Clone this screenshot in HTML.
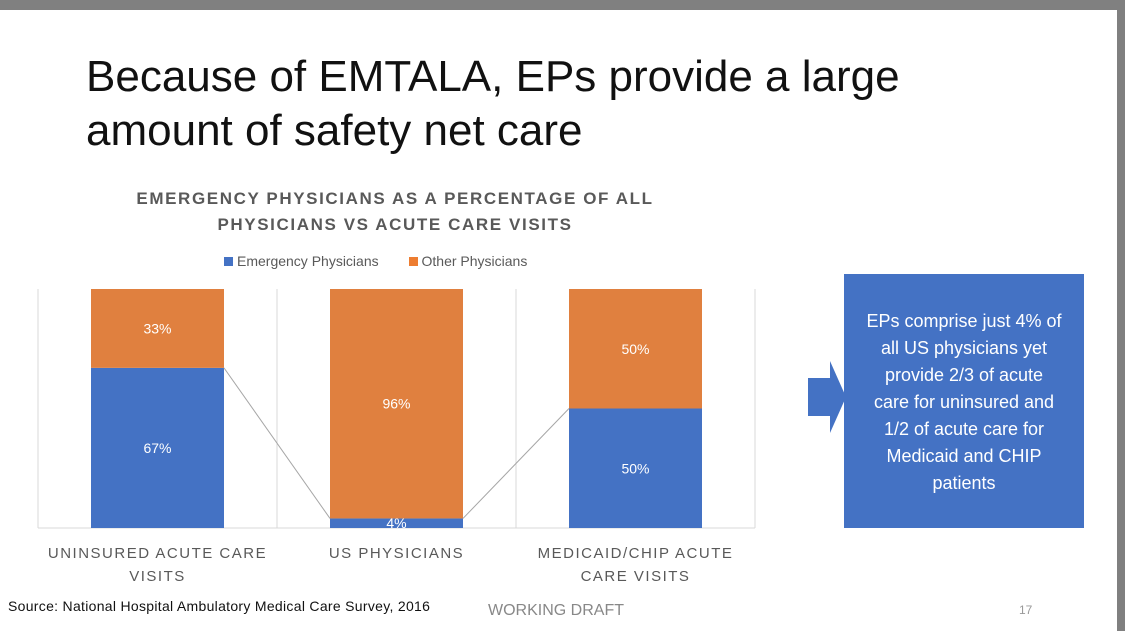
<!DOCTYPE html>
<html><head><meta charset="utf-8"><style>
body{margin:0;width:1125px;height:631px;overflow:hidden;background:#fff;font-family:"Liberation Sans",sans-serif;position:relative}
.abs{position:absolute}
</style></head><body>
<div class="abs" style="left:0;top:0;width:1125px;height:10px;background:#808080"></div>
<div class="abs" style="left:1117px;top:0;width:8px;height:631px;background:#808080"></div>
<div class="abs" style="left:86px;top:50px;font-size:44px;line-height:54px;color:#111;width:900px">Because of EMTALA, EPs provide a large amount of safety net care</div>
<div class="abs" style="left:60px;top:186px;width:670px;text-align:center;font-size:17px;font-weight:bold;letter-spacing:1.6px;color:#595959;line-height:26px">EMERGENCY PHYSICIANS AS A PERCENTAGE OF ALL<br>PHYSICIANS VS ACUTE CARE VISITS</div>
<div class="abs" style="left:224px;top:253px;font-size:14px;color:#595959">
<span><span style="display:inline-block;width:9px;height:9px;background:#4472C4;margin-right:4px"></span>Emergency Physicians</span>
<span style="margin-left:26px"><span style="display:inline-block;width:9px;height:9px;background:#ED7D31;margin-right:4px"></span>Other Physicians</span></div>
<svg class="abs" style="left:0;top:0" width="1125" height="631" id="svg"></svg>
<div class="abs" style="left:808px;top:361px"><svg width="40" height="72"><path d="M0 17H22V0L38 36L22 72V55H0Z" fill="#4472C4"/></svg></div>
<div class="abs" style="left:844px;top:274px;width:240px;height:254px;background:#4472C4;color:#fff;font-size:18px;line-height:27px;text-align:center;box-sizing:border-box;padding-top:34px;white-space:nowrap">EPs comprise just 4% of<br>all US physicians yet<br>provide 2/3 of acute<br>care for uninsured and<br>1/2 of acute care for<br>Medicaid and CHIP<br>patients</div>
<div class="abs" style="left:8px;top:598px;font-size:14px;color:#111;letter-spacing:0.3px">Source: National Hospital Ambulatory Medical Care Survey, 2016</div>
<div class="abs" style="left:488px;top:602px;font-size:16px;color:#888">WORKING DRAFT</div>
<div class="abs" style="left:1019px;top:603px;font-size:12px;color:#999">17</div>
<script>
const categories=["UNINSURED ACUTE CARE|VISITS","US PHYSICIANS","MEDICAID/CHIP ACUTE|CARE VISITS"];
const emergency=[67,4,50];
const other=[33,96,50];
const svg=document.getElementById('svg');const NS='http://www.w3.org/2000/svg';
const x0=38,cw=239,yTop=289,yBot=528,bw=133;
const y=v=>yBot-v/100*(yBot-yTop);
function el(t,a){const e=document.createElementNS(NS,t);for(const k in a)e.setAttribute(k,a[k]);svg.appendChild(e);return e;}
for(let i=0;i<=categories.length;i++){const g=el('line',{x1:x0+i*cw,x2:x0+i*cw,y1:yTop,y2:yBot,stroke:'#d9d9d9'});}
const ax=el('line',{x1:x0,x2:x0+cw*categories.length,y1:yBot,y2:yBot,stroke:'#d9d9d9'});

categories.forEach((c,i)=>{
 const bx=x0+i*cw+(cw-bw)/2;
 const b1=el('rect',{x:bx,y:y(emergency[i]),width:bw,height:yBot-y(emergency[i]),fill:'#4472C4'});
 
 const top=emergency[i]+other[i];
 const b2=el('rect',{x:bx,y:y(top),width:bw,height:y(emergency[i])-y(top),fill:'#E0803F'});
 
 const t1=el('text',{x:bx+bw/2,y:(y(emergency[i])+yBot)/2+5,'text-anchor':'middle','font-size':14,fill:'#fff','font-family':'Liberation Sans'});t1.textContent=emergency[i]+'%';
 
 const t2=el('text',{x:bx+bw/2,y:(y(top)+y(emergency[i]))/2+5,'text-anchor':'middle','font-size':14,fill:'#fff','font-family':'Liberation Sans'});t2.textContent=other[i]+'%';
 
 c.split('|').forEach((ln,j)=>{const t=el('text',{x:x0+i*cw+cw/2,y:558+j*23,'text-anchor':'middle','font-size':15,fill:'#595959','letter-spacing':'1.5','font-family':'Liberation Sans'});t.textContent=ln;});
 if(i<categories.length-1){const nx=x0+(i+1)*cw+(cw-bw)/2;
  const s=el('line',{x1:bx+bw,y1:y(emergency[i]),x2:nx,y2:y(emergency[i+1]),stroke:'#a6a6a6','stroke-width':1});
  }
});
</script>
</body></html>
